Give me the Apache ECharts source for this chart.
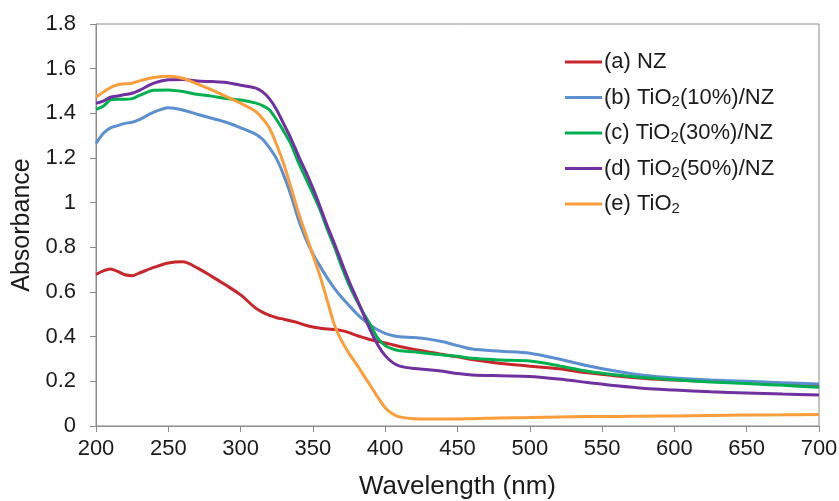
<!DOCTYPE html>
<html>
<head>
<meta charset="utf-8">
<script src="https://cdn.jsdelivr.net/npm/echarts@6/dist/echarts.min.js"></script>
<style>
  html, body { margin: 0; padding: 0; background: #fff; }
  #chart { width: 839px; height: 501px; }
</style>
</head>
<body>
<div id="chart"></div>
<script>
// UV-Vis absorbance spectra, sampled on a shared wavelength grid (nm)
const wavelength = [200, 205, 210, 215, 220, 225, 230, 240, 250, 260, 270, 280, 290, 300, 310, 315, 320, 325, 330, 335,
  340, 345, 350, 355, 360, 365, 370, 375, 380, 385, 390, 395, 400, 405, 410, 420, 430, 440, 450, 460,
  480, 500, 520, 540, 560, 580, 600, 625, 650, 675, 700];

const absNZ = [0.678, 0.695, 0.703, 0.692, 0.677, 0.673, 0.685, 0.710, 0.730, 0.735, 0.708, 0.670, 0.630, 0.587, 0.530, 0.510, 0.495, 0.485, 0.478, 0.470,
  0.462, 0.451, 0.443, 0.438, 0.434, 0.432, 0.427, 0.418, 0.406, 0.396, 0.386, 0.379, 0.372, 0.364, 0.356, 0.343, 0.332, 0.320, 0.310, 0.298,
  0.280, 0.268, 0.256, 0.238, 0.224, 0.213, 0.206, 0.200, 0.194, 0.187, 0.180];

const absTi10 = [1.265, 1.310, 1.335, 1.345, 1.355, 1.360, 1.372, 1.405, 1.425, 1.415, 1.396, 1.378, 1.360, 1.335, 1.308, 1.285, 1.245, 1.195, 1.120, 1.030,
  0.925, 0.840, 0.770, 0.715, 0.662, 0.615, 0.575, 0.540, 0.505, 0.475, 0.450, 0.430, 0.415, 0.405, 0.400, 0.396, 0.389, 0.377, 0.360, 0.345,
  0.335, 0.326, 0.300, 0.270, 0.245, 0.226, 0.215, 0.206, 0.200, 0.194, 0.188];

const absTi30 = [1.418, 1.432, 1.460, 1.463, 1.463, 1.466, 1.480, 1.503, 1.505, 1.498, 1.485, 1.477, 1.466, 1.460, 1.447, 1.435, 1.415, 1.370, 1.318, 1.260,
  1.180, 1.110, 1.040, 0.967, 0.880, 0.800, 0.712, 0.632, 0.566, 0.505, 0.450, 0.392, 0.360, 0.345, 0.337, 0.332, 0.325, 0.318, 0.312, 0.303,
  0.296, 0.291, 0.270, 0.245, 0.228, 0.216, 0.207, 0.197, 0.190, 0.182, 0.174];

const absTi50 = [1.445, 1.455, 1.472, 1.478, 1.484, 1.490, 1.503, 1.535, 1.550, 1.552, 1.545, 1.542, 1.538, 1.526, 1.514, 1.497, 1.465, 1.415, 1.350, 1.285,
  1.210, 1.140, 1.065, 0.982, 0.895, 0.815, 0.730, 0.648, 0.575, 0.500, 0.425, 0.362, 0.315, 0.285, 0.268, 0.257, 0.252, 0.245, 0.235, 0.228,
  0.225, 0.222, 0.210, 0.195, 0.180, 0.168, 0.161, 0.153, 0.148, 0.143, 0.139];

const absTiO2 = [1.472, 1.495, 1.515, 1.528, 1.532, 1.535, 1.545, 1.560, 1.566, 1.557, 1.532, 1.505, 1.475, 1.445, 1.410, 1.378, 1.333, 1.258, 1.170, 1.065,
  0.955, 0.860, 0.765, 0.670, 0.560, 0.450, 0.380, 0.325, 0.278, 0.228, 0.178, 0.128, 0.082, 0.055, 0.041, 0.032, 0.031, 0.031, 0.031, 0.033,
  0.036, 0.038, 0.040, 0.042, 0.043, 0.044, 0.045, 0.047, 0.049, 0.050, 0.052];

const seriesNames = ['(a) NZ', '(b) TiO2(10%)/NZ', '(c) TiO2(30%)/NZ', '(d) TiO2(50%)/NZ', '(e) TiO2'];
const seriesValues = [absNZ, absTi10, absTi30, absTi50, absTiO2];
const seriesColors = ['#c8252c', '#5b8fd0', '#00b050', '#7030a0', '#fb9d3a'];

const FONT = "'Liberation Sans', Arial, sans-serif";
const AXIS_GRAY = '#8a8a8a';

const chart = echarts.init(document.getElementById('chart'), null, { renderer: 'canvas' });

const series = seriesNames.map((name, i) => ({
  name: name,
  type: 'line',
  data: wavelength.map((w, k) => [w, seriesValues[i][k]]),
  smooth: 0.3,
  showSymbol: false,
  symbol: 'none',
  lineStyle: { color: seriesColors[i], width: 3 },
  itemStyle: { color: seriesColors[i] },
  z: 2 + i
}));

chart.setOption({
  animation: false,
  backgroundColor: '#ffffff',
  textStyle: { fontFamily: FONT },
  grid: {
    left: 96, right: 20, top: 24, bottom: 75,
    containLabel: false,
    outerBoundsMode: 'none',
    show: true, borderColor: AXIS_GRAY, borderWidth: 1
  },
  legend: {
    orient: 'vertical',
    left: 560, top: 45,
    icon: 'rect',
    itemWidth: 37, itemHeight: 3,
    itemGap: 10.5,
    data: seriesNames,
    formatter: (n) => n.replace(/TiO2/g, 'TiO{sub|2}'),
    textStyle: {
      fontFamily: FONT, fontSize: 22, color: '#1a1a1a', lineHeight: 24,
      padding: [0, 0, 0, -3],
      rich: {
        sub: { fontFamily: FONT, fontSize: 15, color: '#1a1a1a', lineHeight: 24, verticalAlign: 'bottom', padding: [10, 0, 0, 0] }
      }
    }
  },
  xAxis: {
    type: 'value',
    min: 200, max: 700, interval: 50,
    name: 'Wavelength (nm)',
    nameLocation: 'middle', nameGap: 48,
    nameTextStyle: { fontFamily: FONT, fontSize: 26, color: '#1a1a1a' },
    axisLine: { show: true, lineStyle: { color: AXIS_GRAY, width: 1 } },
    axisTick: { show: true, length: 6, lineStyle: { color: AXIS_GRAY } },
    axisLabel: { fontFamily: FONT, fontSize: 22, color: '#1a1a1a', margin: 12 },
    splitLine: { show: false }
  },
  yAxis: {
    type: 'value',
    min: 0, max: 1.8, interval: 0.2,
    name: 'Absorbance',
    nameLocation: 'middle', nameGap: 55,
    nameTextStyle: { fontFamily: FONT, fontSize: 25, color: '#1a1a1a' },
    axisLine: { show: true, lineStyle: { color: AXIS_GRAY, width: 1 } },
    axisTick: { show: true, length: 6, lineStyle: { color: AXIS_GRAY } },
    axisLabel: { fontFamily: FONT, fontSize: 22, color: '#1a1a1a', margin: 20,
      formatter: (v) => String(Math.round(v * 10) / 10) },
    splitLine: { show: false }
  },
  series: series
});
</script>
</body>
</html>
